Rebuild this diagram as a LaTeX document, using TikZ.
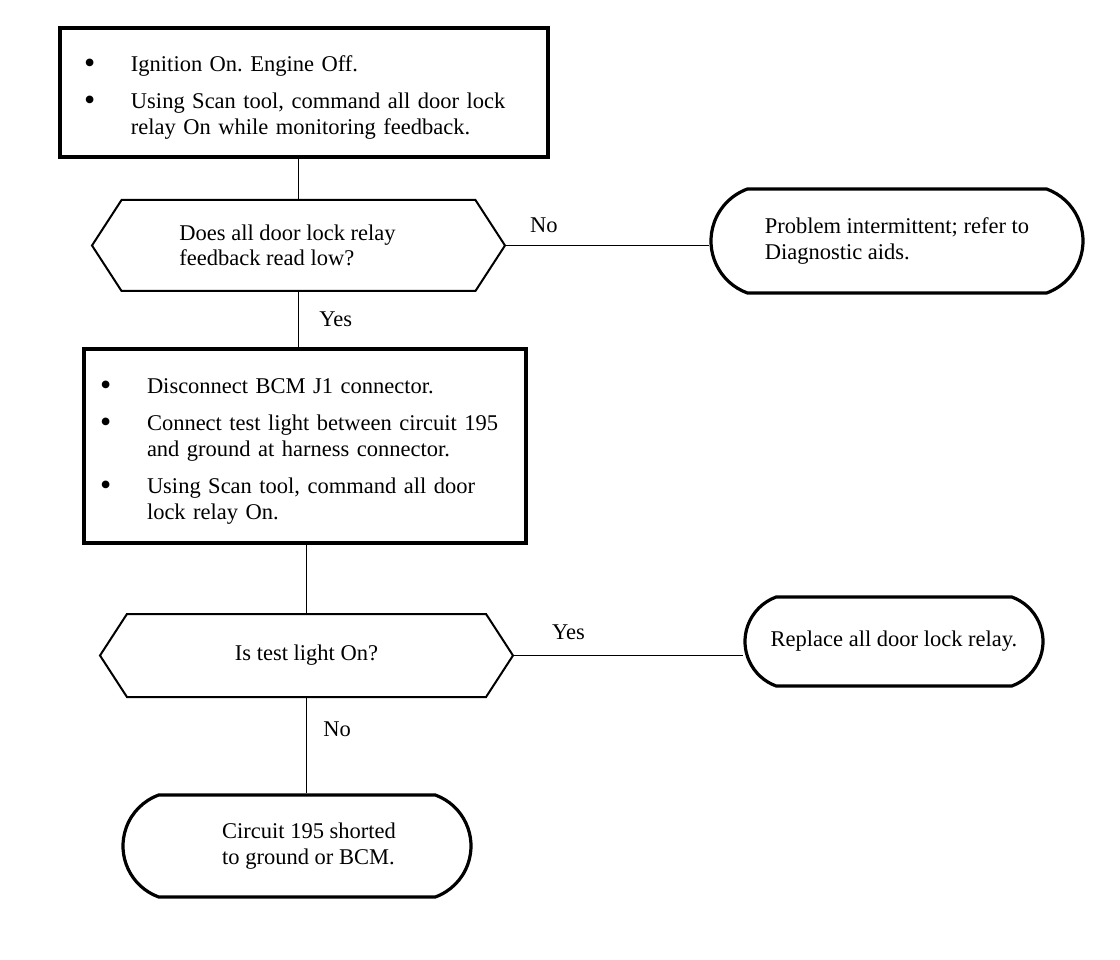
\documentclass[tikz,border=0pt]{standalone}
\usepackage{fontspec}
\setmainfont{Liberation Serif}
\usetikzlibrary{shapes.misc,shapes.symbols}
\newcommand{\stepitem}[1]{%
  \par\hangindent=47pt\hangafter=1\noindent
  \makebox[47pt][l]{\raisebox{-2pt}{\fontsize{32}{25}\selectfont\textbullet}}#1\par}

\begin{document}
\begin{tikzpicture}[x=1pt,y=-1pt,
    font=\fontsize{22.5}{25.5}\selectfont\frenchspacing,
    stepbox/.style={draw,line width=3.2pt,inner sep=0pt,align=left},
    query/.style={draw,line width=2pt,shape=signal,signal to=east and west,
      signal pointer angle=114,inner sep=0pt,align=left},
    endbox/.style={draw,line width=3.2pt,shape=rounded rectangle,
      rounded rectangle arc length=140,inner sep=0pt,align=left},
    link/.style={line width=1.8pt},
    ans/.style={inner sep=0pt}]
  \useasboundingbox (0,0) rectangle (1120,960);
  \node[stepbox,minimum width=488,minimum height=129,text width=440] (check) at (304,92.5)
    {\raggedright\stepitem{Ignition On. Engine Off.}\vspace{12pt}%
     \stepitem{Using Scan tool, command all door lock relay On while monitoring feedback.}};
  \node[query,minimum width=413,minimum height=91] (feedback) at (298.5,245.5)
    {Does all door lock relay\hspace*{22pt}\\feedback read low?};
  \node[endbox,minimum width=372,minimum height=104] (intermit) at (897,241)
    {Problem intermittent; refer to\\Diagnostic aids.};
  \node[stepbox,minimum width=442,minimum height=194,text width=410] (probe) at (305,446)
    {\raggedright\stepitem{Disconnect BCM J1 connector.}\vspace{12pt}%
     \stepitem{Connect test light between circuit 195 and ground at harness connector.}\vspace{12pt}%
     \stepitem{Using Scan tool, command all door lock relay On.}};
  \node[query,minimum width=413,minimum height=83] (light) at (306.5,655.5) {Is test light On?};
  \node[endbox,minimum width=298,minimum height=89] (relay) at (894,641.5)
    {Replace all door lock relay.};
  \node[endbox,minimum width=348,minimum height=102] (short) at (297,846)
    {\hspace*{24pt}Circuit 195 shorted\\\hspace*{24pt}to ground or BCM.};

  \draw[link] (check.south -| feedback.north) -- (feedback.north);
  \draw[link] (feedback.east) node[ans,anchor=south west,xshift=23pt,yshift=12pt] {No}
    -- (feedback.east -| intermit.west);
  \draw[link] (feedback.south) -- (feedback.south |- probe.north)
    node[ans,midway,anchor=west,xshift=20pt] {Yes};
  \draw[link] (probe.south -| light.north) -- (light.north);
  \draw[link] (light.east) node[ans,anchor=south west,xshift=37pt,yshift=15pt] {Yes}
    -- (light.east -| relay.west);
  \draw[link] (light.south) -- (light.south |- short.north)
    node[ans,pos=0.33,anchor=west,xshift=16pt] {No};
\end{tikzpicture}
\end{document}
